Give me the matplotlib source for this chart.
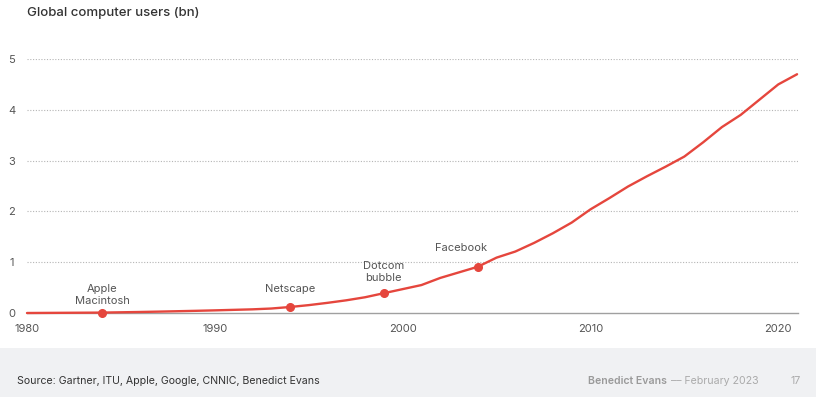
import numpy as np
import matplotlib.pyplot as plt
from matplotlib.patches import Rectangle

plt.rcParams['font.family'] = ['Inter', 'DejaVu Sans']

# global computer users, billions
years = list(range(1980, 2022))
users = [0.0, 0.002, 0.004, 0.006, 0.008, 0.014, 0.02, 0.027, 0.035, 0.043,
         0.052, 0.062, 0.072, 0.088, 0.118, 0.155, 0.20, 0.25, 0.31, 0.39,
         0.47, 0.55, 0.69, 0.80, 0.91, 1.09, 1.21, 1.38, 1.57, 1.78,
         2.04, 2.26, 2.49, 2.69, 2.88, 3.08, 3.36, 3.66, 3.90, 4.20,
         4.50, 4.70]

event_years = [1984, 1994, 1999, 2004]
event_labels = ['Apple\nMacintosh', 'Netscape', 'Dotcom\nbubble', 'Facebook']
# label offsets in points (dx, dy) above each dot
event_offsets = [(0, 4.5), (0, 9.5), (0, 7.5), (-12, 10)]

x_ticks = [1980, 1990, 2000, 2010, 2020]
y_ticks = [0, 1, 2, 3, 4, 5]

red = '#e5463d'
W, H = 816, 397

fig = plt.figure(figsize=(W / 100, H / 100), dpi=100)

# footer band
fig.patches.append(Rectangle((0, 0), 1, 49 / H, transform=fig.transFigure,
                             facecolor='#f0f1f3', edgecolor='none', zorder=0))

ax = fig.add_axes([27 / W, 1 - 313 / H, (798 - 27) / W, (313 - 59) / H])
ax.set_xlim(1980, 2021.05)
ax.set_ylim(0, 5)

ax.plot(years, users, color=red, lw=1.7, solid_capstyle='round', zorder=3, clip_on=False)

ev_vals = [users[years.index(y)] for y in event_years]
ax.plot(event_years, ev_vals, 'o', color=red, ms=5.5, zorder=4, clip_on=False)

for yr, v, lab, off in zip(event_years, ev_vals, event_labels, event_offsets):
    ax.annotate(lab, (yr, v), xytext=off, textcoords='offset points',
                ha='center', va='bottom', fontsize=8, color='#555555',
                linespacing=1.25)

ax.set_xticks(x_ticks)
ax.set_yticks(y_ticks)
ax.tick_params(length=0, labelsize=8, labelcolor='#555555')
ax.tick_params(axis='x', pad=8)
ax.tick_params(axis='y', pad=11)
for lab in ax.get_yticklabels():
    lab.set_horizontalalignment('center')

for s in ['top', 'right', 'left']:
    ax.spines[s].set_visible(False)
ax.spines['bottom'].set_color('#a0a0a0')
ax.spines['bottom'].set_linewidth(1)

for yv in y_ticks[1:]:
    ax.axhline(yv, color='#b5b5b5', lw=0.8, ls=(0, (1, 1.5)), zorder=1)

fig.text(27 / W, 1 - 13 / H, 'Global computer users (bn)', fontsize=9.5,
         fontweight='medium', color='#333333', va='center', ha='left')

fig.text(17 / W, 1 - 381 / H, 'Source: Gartner, ITU, Apple, Google, CNNIC, Benedict Evans',
         fontsize=7.6, color='#333333', va='center', ha='left')
fig.text(667 / W, 1 - 381 / H, 'Benedict Evans', fontsize=7.6, fontweight='semibold',
         color='#9a9a9a', va='center', ha='right')
fig.text(671 / W, 1 - 381 / H, '\u2013\u2013 February 2023', fontsize=7.6,
         color='#aaaaaa', va='center', ha='left')
fig.text(801 / W, 1 - 381 / H, '17', fontsize=7.6, color='#aaaaaa', va='center', ha='right')

fig.savefig('out.png', dpi=100)
